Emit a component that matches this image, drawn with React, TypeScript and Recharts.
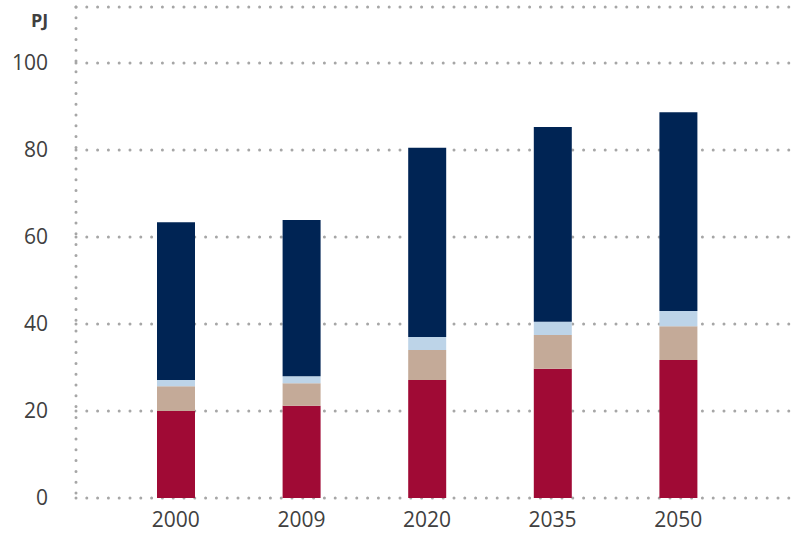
import React from 'react';
import { BarChart, Bar, XAxis, YAxis, CartesianGrid } from 'recharts';

const categories = ['2000', '2009', '2020', '2035', '2050'];
const seriesRed = [20.0, 21.2, 27.1, 29.7, 31.7];
const seriesTan = [5.7, 5.2, 6.9, 7.8, 7.8];
const seriesLightBlue = [1.4, 1.6, 3.0, 3.0, 3.5];
const seriesNavy = [36.3, 35.9, 43.5, 44.8, 45.7];
const yTicks = [0, 20, 40, 60, 80, 100];

const data = categories.map((c, i) => ({
  year: c,
  red: seriesRed[i],
  tan: seriesTan[i],
  lightBlue: seriesLightBlue[i],
  navy: seriesNavy[i],
}));

const dotted = {
  stroke: '#A6A6A6',
  strokeWidth: 3,
  strokeDasharray: '0 10.8',
  strokeLinecap: 'round' as const,
};

const font = '"Open Sans", sans-serif';

export default function App() {
  return (
    <div style={{ position: 'absolute', left: 0, top: 0, width: 803, height: 538 }}>
      <div
        style={{
          position: 'absolute',
          left: 31,
          top: 8,
          fontFamily: font,
          fontWeight: 700,
          fontSize: 18,
          lineHeight: 'normal',
          color: '#404040',
          zIndex: 2,
        }}
      >
        PJ
      </div>
      <BarChart
        width={803}
        height={538}
        data={data}
        margin={{ top: 7, right: 13, bottom: 0, left: 0 }}
        barSize={38}
      >
        <CartesianGrid vertical={false} horizontal={true} {...dotted} />
        <XAxis
          dataKey="year"
          axisLine={false}
          tickLine={false}
          tickSize={0}
          tickMargin={14}
          height={40}
          padding={{ left: 37, right: 49 }}
          tick={{ fill: '#404040', fontSize: 21, fontFamily: font }}
        />
        <YAxis
          domain={[0, 100]}
          ticks={yTicks}
          width={76}
          padding={{ top: 56 }}
          axisLine={dotted}
          tickLine={false}
          tickSize={0}
          tickMargin={28}
          tick={{ fill: '#404040', fontSize: 21, fontFamily: font }}
        />
        <Bar dataKey="red" stackId="a" fill="#A00A35" isAnimationActive={false} />
        <Bar dataKey="tan" stackId="a" fill="#C4AA98" isAnimationActive={false} />
        <Bar dataKey="lightBlue" stackId="a" fill="#BDD4E8" isAnimationActive={false} />
        <Bar dataKey="navy" stackId="a" fill="#002454" isAnimationActive={false} />
      </BarChart>
    </div>
  );
}
